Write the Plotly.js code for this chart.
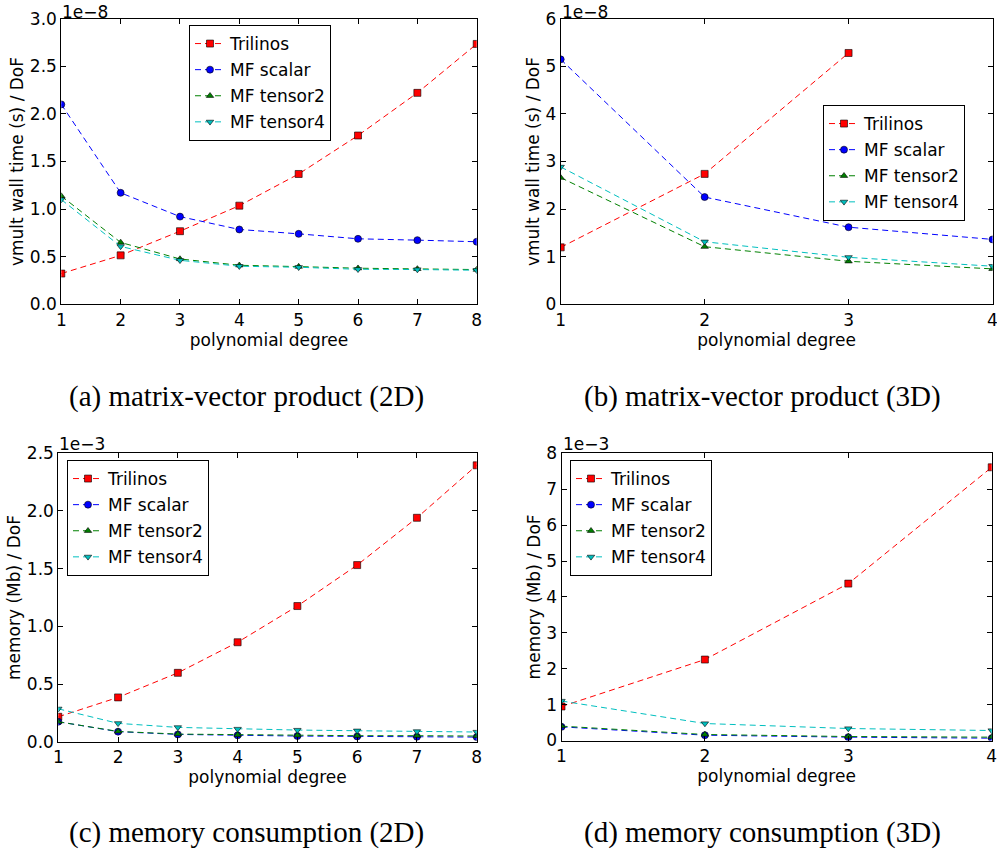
<!DOCTYPE html>
<html>
<head>
<meta charset="utf-8">
<script src="https://cdn.plot.ly/plotly-3.0.1.min.js"></script>
<style>
html,body{margin:0;padding:0;background:#fff;}
#chart{width:997px;height:852px;}
</style>
</head>
<body>
<div id="chart"></div>
<script>
// ---- data (values in units of the offset shown above each axis) ----
const seriesNames = ["Trilinos", "MF scalar", "MF tensor2", "MF tensor4"];
const degrees2D = [1, 2, 3, 4, 5, 6, 7, 8];
const degrees3D = [1, 2, 3, 4];
const degrees3DTrilinos = [1, 2, 3];

// (a) matrix-vector product 2D, x 1e-8 s / DoF
const a_trilinos = [0.323, 0.514, 0.768, 1.036, 1.369, 1.773, 2.221, 2.735];
const a_scalar   = [2.100, 1.171, 0.921, 0.786, 0.740, 0.688, 0.674, 0.657];
const a_tensor2  = [1.137, 0.650, 0.476, 0.410, 0.396, 0.379, 0.372, 0.365];
const a_tensor4  = [1.100, 0.608, 0.462, 0.400, 0.389, 0.368, 0.365, 0.358];

// (b) matrix-vector product 3D, x 1e-8 s / DoF
const b_trilinos = [1.196, 2.740, 5.280];
const b_scalar   = [5.146, 2.253, 1.620, 1.363];
const b_tensor2  = [2.660, 1.210, 0.904, 0.744];
const b_tensor4  = [2.886, 1.314, 0.987, 0.800];

// (c) memory consumption 2D, x 1e-3 Mb / DoF
const c_trilinos = [0.216, 0.384, 0.597, 0.862, 1.176, 1.531, 1.941, 2.396];
const c_scalar   = [0.173, 0.087, 0.063, 0.055, 0.049, 0.046, 0.043, 0.040];
const c_tensor2  = [0.173, 0.089, 0.066, 0.060, 0.055, 0.052, 0.052, 0.049];
const c_tensor4  = [0.285, 0.159, 0.124, 0.110, 0.101, 0.095, 0.089, 0.084];

// (d) memory consumption 3D, x 1e-3 Mb / DoF
const d_trilinos = [0.947, 2.255, 4.370, 7.610];
const d_scalar   = [0.380, 0.148, 0.093, 0.065];
const d_tensor2  = [0.400, 0.167, 0.111, 0.093];
const d_tensor4  = [1.100, 0.473, 0.334, 0.278];

const captions = ["(a) matrix-vector product (2D)", "(b) matrix-vector product (3D)",
                  "(c) memory consumption (2D)", "(d) memory consumption (3D)"];
const offsets = ["1e\u22128", "1e\u22128", "1e\u22123", "1e\u22123"];
const yTitles = ["vmult wall time (s) / DoF", "vmult wall time (s) / DoF",
                 "memory (Mb) / DoF", "memory (Mb) / DoF"];
const xTitle = "polynomial degree";

// ---- styles ----
const colors = ["#ff0000", "#0000ff", "#008000", "#00bfbf"];
const symbols = ["square", "circle", "triangle-up", "triangle-down"];
const msizes = [7, 7, 6.5, 6.5];
const FONT = "DejaVu Sans, sans-serif";
const FS = 17;

function mk(i, x, y, ax, leg) {
  const axn = ax === 1 ? "" : String(ax);
  return {
    type: "scatter", mode: "lines+markers",
    x: x, y: y, name: seriesNames[i],
    xaxis: "x" + axn, yaxis: "y" + axn,
    legend: leg, legendgroup: leg + "_" + i,
    line: {color: colors[i], width: 1, dash: "6px,4px"},
    marker: {symbol: symbols[i], size: msizes[i], color: colors[i],
             line: {color: "#000", width: 0.6}},
    cliponaxis: true
  };
}

const traces = [
  mk(0, degrees2D, a_trilinos, 1, "legend"),
  mk(1, degrees2D, a_scalar, 1, "legend"),
  mk(2, degrees2D, a_tensor2, 1, "legend"),
  mk(3, degrees2D, a_tensor4, 1, "legend"),
  mk(0, degrees3DTrilinos, b_trilinos, 2, "legend2"),
  mk(1, degrees3D, b_scalar, 2, "legend2"),
  mk(2, degrees3D, b_tensor2, 2, "legend2"),
  mk(3, degrees3D, b_tensor4, 2, "legend2"),
  mk(0, degrees2D, c_trilinos, 3, "legend3"),
  mk(1, degrees2D, c_scalar, 3, "legend3"),
  mk(2, degrees2D, c_tensor2, 3, "legend3"),
  mk(3, degrees2D, c_tensor4, 3, "legend3"),
  mk(0, degrees3D, d_trilinos, 4, "legend4"),
  mk(1, degrees3D, d_scalar, 4, "legend4"),
  mk(2, degrees3D, d_tensor2, 4, "legend4"),
  mk(3, degrees3D, d_tensor4, 4, "legend4")
];

const W = 997, H = 852;
const px = v => v / W;
const py = v => 1 - v / H;

// panel frames in pixels: [left, right, top, bottom]
const frames = [
  [61.3, 476.7, 18.7, 304.3],
  [560.7, 992.5, 18.7, 304.3],
  [58.3, 476.7, 453.3, 741.7],
  [561.5, 991.7, 453.3, 740.5]
];
const xRanges = [[1, 8], [1, 4], [1, 8], [1, 4]];
const yRanges = [[0, 3], [0, 6], [0, 2.5], [0, 8]];
const yDticks = [0.5, 1, 0.5, 1];
const yFormats = [".1f", "d", ".1f", "d"];
const offsetTops = [0, 0, 432, 432];

function axisBase() {
  return {
    showgrid: false, zeroline: false, showline: true, mirror: "ticks",
    linecolor: "#000", linewidth: 1, ticks: "inside", ticklen: 5,
    tickwidth: 1, tickcolor: "#000", ticklabeloverflow: "allow",
    tickfont: {family: FONT, size: FS, color: "#000"},
    fixedrange: true
  };
}

const layout = {
  width: W, height: H,
  margin: {l: 0, r: 0, t: 0, b: 0},
  paper_bgcolor: "#fff", plot_bgcolor: "#fff",
  showlegend: true,
  font: {family: FONT, size: FS, color: "#000"},
  annotations: [],
  shapes: []
};

const legendPos = [[189, 25], [823, 105], [67, 460], [570, 460]];
const legNames = ["legend", "legend2", "legend3", "legend4"];

for (let k = 0; k < 4; k++) {
  const [l, r, t, b] = frames[k];
  const n = k === 0 ? "" : String(k + 1);
  const xa = axisBase();
  xa.domain = [px(l), px(r)];
  xa.range = xRanges[k];
  xa.dtick = 1; xa.tick0 = 1;
  xa.anchor = "y" + n;
  xa.title = {text: xTitle, font: {family: FONT, size: FS, color: "#000"}, standoff: 5};
  const ya = axisBase();
  ya.domain = [py(b), py(t)];
  ya.range = yRanges[k];
  ya.dtick = yDticks[k]; ya.tick0 = 0;
  ya.tickformat = yFormats[k];
  ya.anchor = "x" + n;
  ya.title = {text: yTitles[k], font: {family: FONT, size: FS, color: "#000"}, standoff: 1};
  layout["xaxis" + n] = xa;
  layout["yaxis" + n] = ya;

  layout[legNames[k]] = {
    x: px(legendPos[k][0]), y: py(legendPos[k][1]),
    xanchor: "left", yanchor: "top",
    bgcolor: "#fff", bordercolor: "#000", borderwidth: 1,
    font: {family: FONT, size: FS, color: "#000"},
    tracegroupgap: 1, itemwidth: 30
  };

  layout.annotations.push({
    xref: "paper", yref: "paper", x: px(l - 1), y: py(offsetTops[k]),
    xanchor: "left", yanchor: "top", showarrow: false,
    text: offsets[k], font: {family: FONT, size: FS, color: "#000"}
  });
}

const capPos = [[246, 396], [762, 396], [246, 832], [762, 832]];
for (let k = 0; k < 4; k++) {
  layout.annotations.push({
    xref: "paper", yref: "paper", x: px(capPos[k][0]), y: py(capPos[k][1]),
    xanchor: "center", yanchor: "middle", showarrow: false,
    text: captions[k],
    font: {family: "Liberation Serif, Times New Roman, serif", size: 29, color: "#000"}
  });
}

Plotly.newPlot("chart", traces, layout, {displayModeBar: false, staticPlot: true});
</script>
</body>
</html>
